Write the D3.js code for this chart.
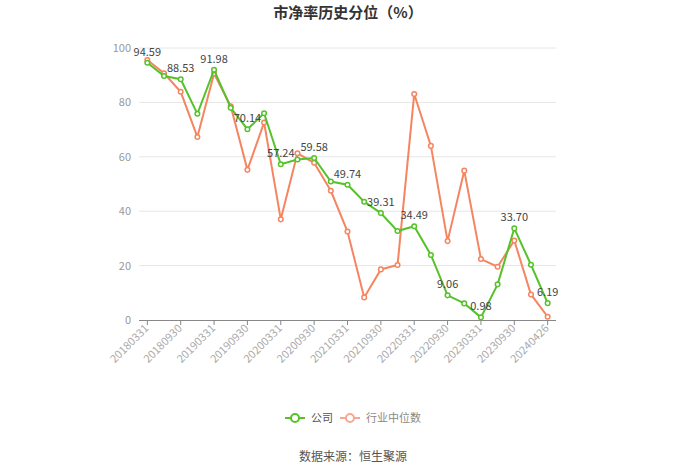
<!DOCTYPE html>
<html><head><meta charset="utf-8">
<script src="https://cdn.jsdelivr.net/npm/d3@7"></script>
<style>body{margin:0;background:#fff;}svg{display:block;font-family:"Noto Sans CJK SC","Noto Sans",sans-serif;}</style>
</head><body>
<svg id="c" width="700" height="474"></svg>
<script>
const dates = ["20180331","20180630","20180930","20181231","20190331","20190630","20190930","20191231","20200331","20200630","20200930","20201231","20210331","20210630","20210930","20211231","20220331","20220630","20220930","20221231","20230331","20230630","20230930","20231231","20240426"];
const company = [94.59,89.7,88.53,75.8,91.98,78.0,70.14,76.0,57.24,59.0,59.58,50.9,49.74,43.5,39.31,32.7,34.49,23.9,9.06,6.1,0.98,13.1,33.70,20.3,6.19];
const industry = [95.6,90.7,83.9,67.3,90.6,78.6,55.2,72.6,37.0,61.3,57.8,47.5,32.5,8.3,18.6,20.2,83.1,64.0,29.0,54.9,22.4,19.6,29.2,9.4,1.2];
const yTicks = [0,20,40,60,80,100];
const seriesNames = ["公司","行业中位数"];
const colors = ["#55c22a","#f58560"];

const svg = d3.select("#c");
const x = d3.scalePoint().domain(dates).range([139,556]).padding(0.5);
const y = d3.scaleLinear().domain([0,100]).range([320,48]);

svg.append("text").attr("x",348).attr("y",18).attr("text-anchor","middle")
  .attr("font-size",15).attr("font-weight","bold").attr("fill","#333").text("市净率历史分位（%）");

// grid
svg.append("g").selectAll("line").data(yTicks.filter(d=>d>0)).join("line")
  .attr("x1",139).attr("x2",556).attr("y1",d=>y(d)).attr("y2",d=>y(d))
  .attr("stroke","#e6e6e6").attr("stroke-width",1);
// y labels
svg.append("g").selectAll("text").data(yTicks).join("text")
  .attr("x",131).attr("y",d=>y(d)+4).attr("text-anchor","end")
  .attr("font-size",11).attr("fill","#999").text(d=>d);

// x axis
svg.append("line").attr("x1",139).attr("x2",556).attr("y1",320.5).attr("y2",320.5).attr("stroke","#888");
const labeled = dates.filter((d,i)=>i%2===0);
const xa = svg.append("g");
xa.selectAll("line").data(labeled).join("line")
  .attr("x1",d=>x(d)).attr("x2",d=>x(d)).attr("y1",320).attr("y2",325).attr("stroke","#888");
xa.selectAll("text").data(labeled).join("text")
  .attr("transform",d=>`translate(${x(d)+2},${329}) rotate(-45)`)
  .attr("text-anchor","end").attr("font-size",11).attr("fill","#aaa").text(d=>d);

const line = d3.line().x((d,i)=>x(dates[i])).y(d=>y(d));
// industry first (below), then company
[[industry,1],[company,0]].forEach(([vals,k])=>{
  svg.append("path").attr("d",line(vals)).attr("fill","none").attr("stroke",colors[k]).attr("stroke-width",2);
  svg.append("g").selectAll("circle").data(vals).join("circle")
    .attr("cx",(d,i)=>x(dates[i])).attr("cy",d=>y(d)).attr("r",2.3)
    .attr("fill","#fff").attr("stroke",colors[k]).attr("stroke-width",1.5);
});
// company labels
svg.append("g").selectAll("text").data(company.map((v,i)=>({v,i})).filter(d=>d.i%2===0)).join("text")
  .attr("x",d=>x(dates[d.i])).attr("y",d=>y(d.v)-7).attr("text-anchor","middle")
  .attr("font-size",11).attr("fill","#444").text(d=>d.v.toFixed(2));

// legend
const lg = [{x:285,tx:311},{x:340,tx:366}];
lg.forEach((p,k)=>{
  const g = svg.append("g").attr("opacity", k===1?0.7:1);
  g.append("line").attr("x1",p.x).attr("x2",p.x+20).attr("y1",418).attr("y2",418).attr("stroke",colors[k]).attr("stroke-width",2);
  g.append("circle").attr("cx",p.x+10).attr("cy",418).attr("r",4).attr("fill","#fff").attr("stroke",colors[k]).attr("stroke-width",2);
  g.append("text").attr("x",p.tx).attr("y",422).attr("font-size",11).attr("fill","#555").text(seriesNames[k]);
});

svg.append("text").attr("x",353).attr("y",461).attr("text-anchor","middle")
  .attr("font-size",12).attr("fill","#555").text("数据来源：恒生聚源");
</script>
</body></html>
